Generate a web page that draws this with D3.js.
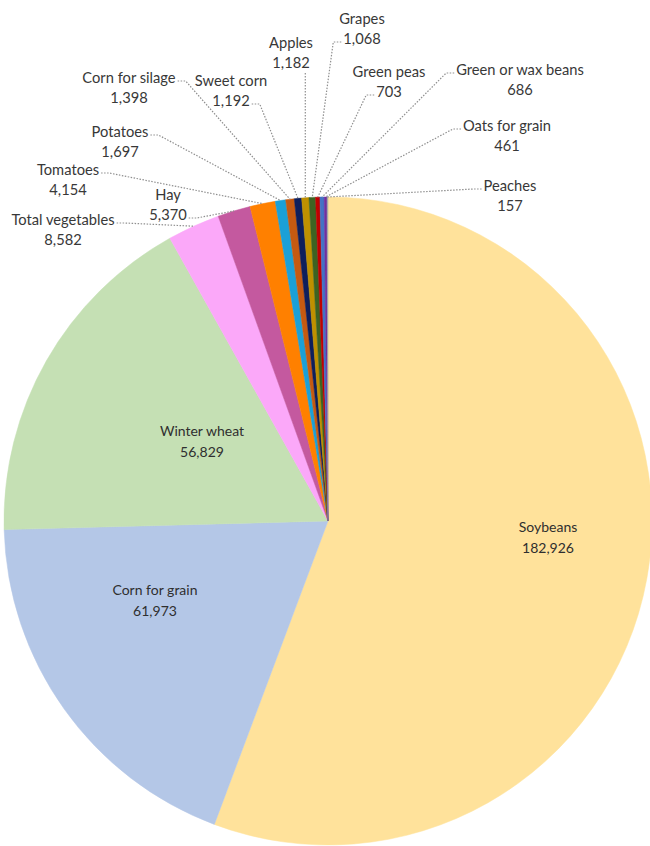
<!DOCTYPE html>
<html>
<head>
<meta charset="utf-8">
<script src="https://cdn.jsdelivr.net/npm/d3@7"></script>
<style>
  html, body { margin: 0; padding: 0; background: #fff; overflow: hidden; }
  svg { display: block; }
  text { font-family: Lato, "Open Sans", sans-serif; }
</style>
</head>
<body>
<svg id="chart" width="650" height="846"></svg>
<script>
// ---- data ----
const categories = ["Soybeans", "Corn for grain", "Winter wheat", "Total vegetables", "Hay", "Tomatoes",
  "Potatoes", "Corn for silage", "Sweet corn", "Apples", "Grapes", "Green peas",
  "Green or wax beans", "Oats for grain", "Peaches"];
const values = [182926, 61973, 56829, 8582, 5370, 4154, 1697, 1398, 1192, 1182, 1068, 703, 686, 461, 157];
const colors = ["#FFE29B", "#B4C7E7", "#C5E0B4", "#FBA8F9", "#C4599F", "#FF8000",
  "#1BA0D7", "#C55A11", "#0E1F5C", "#BF9000", "#3D6322", "#C00000",
  "#4472C4", "#7030A0", "#A5A5A5"];

// ---- layout (label positions: centre of first text line) ----
const insideLabels = {
  "Soybeans": [548, 527],
  "Corn for grain": [155, 590],
  "Winter wheat": [202, 431]
};
const outsideLabels = {
  "Total vegetables": {x: 63, y: 220, side: "right", line: 0},
  "Hay": {x: 168, y: 195, side: "right", line: 1},
  "Tomatoes": {x: 68, y: 170, side: "right", line: 0},
  "Potatoes": {x: 120, y: 132, side: "right", line: 0},
  "Corn for silage": {x: 129, y: 78, side: "right", line: 0},
  "Sweet corn": {x: 231, y: 81, side: "right", line: 1},
  "Apples": {x: 291, y: 43, side: "bottom", line: 1},
  "Grapes": {x: 362, y: 19, side: "left", line: 1},
  "Green peas": {x: 389, y: 72, side: "left", line: 1},
  "Green or wax beans": {x: 520, y: 70, side: "left", line: 0},
  "Oats for grain": {x: 507, y: 126, side: "left", line: 0},
  "Peaches": {x: 510, y: 186, side: "left", line: 0}
};

const cx = 328, cy = 521, R = 324;
const lineGap = 20;
const fmt = d3.format(",");

const svg = d3.select("#chart");
const g = svg.append("g").attr("transform", `translate(${cx},${cy})`);

const data = categories.map((c, i) => ({name: c, value: values[i], color: colors[i]}));
const pie = d3.pie().sort(null).value(d => d.value).startAngle(0).endAngle(2 * Math.PI);
const arcs = pie(data);
const arc = d3.arc().innerRadius(0).outerRadius(R);

g.selectAll("path.slice").data(arcs).join("path")
  .attr("class", "slice")
  .attr("d", arc)
  .attr("fill", d => d.data.color)
  .attr("stroke", d => d.data.color)
  .attr("stroke-width", 0.5);

// inside labels
arcs.forEach(a => {
  const p = insideLabels[a.data.name];
  if (!p) return;
  const t = svg.append("text").attr("text-anchor", "middle").attr("fill", "#2f2f2f")
    .style("font-size", "14px");
  t.append("tspan").attr("x", p[0]).attr("y", p[1]).attr("dy", "0.35em").text(a.data.name);
  t.append("tspan").attr("x", p[0]).attr("y", p[1] + 21.5).attr("dy", "0.35em").text(fmt(a.data.value));
});

// outside labels + leaders
const leaderG = svg.append("g");
arcs.forEach(a => {
  const L = outsideLabels[a.data.name];
  if (!L) return;
  const t = svg.append("text").attr("text-anchor", "middle").attr("fill", "#383838")
    .style("font-size", "14.7px");
  const s1 = t.append("tspan").attr("x", L.x).attr("y", L.y).attr("dy", "0.35em").text(a.data.name);
  const s2 = t.append("tspan").attr("x", L.x).attr("y", L.y + lineGap).attr("dy", "0.35em").text(fmt(a.data.value));
  const spans = [s1, s2];
  const w = spans[L.line].node().getComputedTextLength();
  const ly = L.y + L.line * lineGap + 3;
  const mid = (a.startAngle + a.endAngle) / 2;
  const ex = cx + R * Math.sin(mid), ey = cy - R * Math.cos(mid);
  let pts;
  if (L.side === "right") {
    const sx = L.x + w / 2 + 2;
    pts = [[sx, ly], [sx + 8, ly], [ex, ey]];
  } else if (L.side === "left") {
    const sx = L.x - w / 2 - 2;
    pts = [[sx, ly], [sx - 8, ly], [ex, ey]];
  } else {
    const sy = L.y + lineGap + 10;
    pts = [[ex, sy], [ex, ey]];
  }
  leaderG.append("path")
    .attr("d", d3.line()(pts))
    .attr("fill", "none")
    .attr("stroke", "#8F8F8F")
    .attr("stroke-width", 1.2)
    .attr("stroke-dasharray", "1.5,1.5");
});
</script>
</body>
</html>
